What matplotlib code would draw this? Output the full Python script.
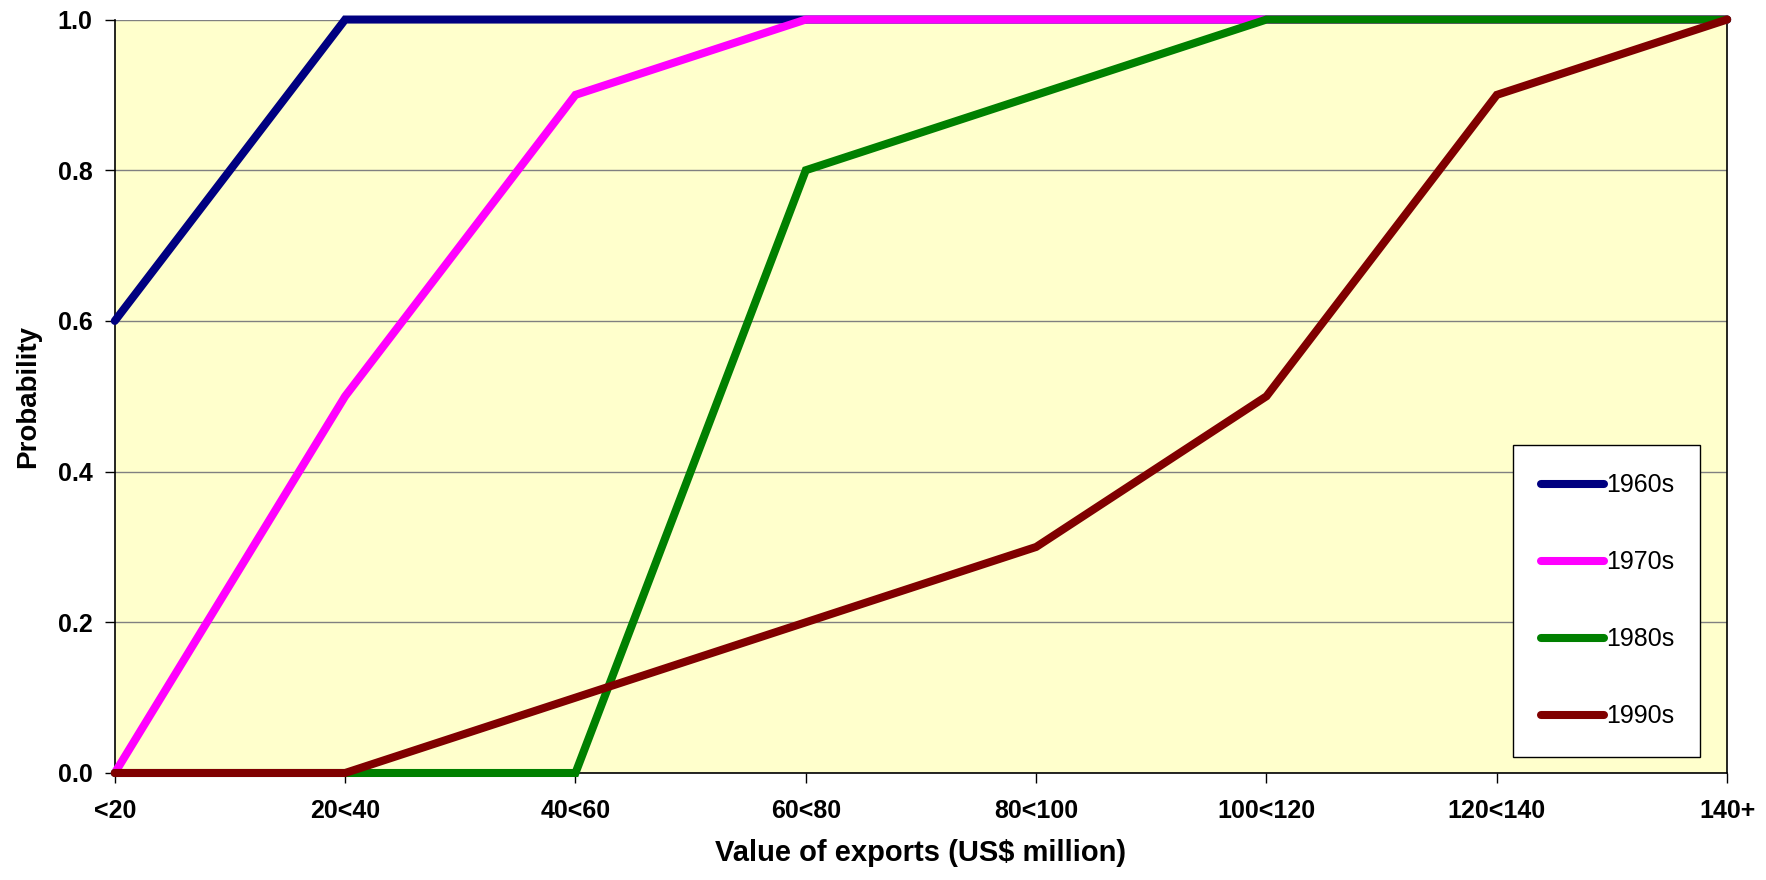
import matplotlib
matplotlib.use('Agg')
import matplotlib.pyplot as plt
import numpy as np

plt.rcParams['font.family'] = ['Liberation Sans', 'DejaVu Sans']

# 出口额分组与各年代累计概率
categories = ['<20', '20<40', '40<60', '60<80', '80<100', '100<120', '120<140', '140+']
p1960s = [0.6, 1.0, 1.0, 1.0, 1.0, 1.0, 1.0, 1.0]
p1970s = [0.0, 0.5, 0.9, 1.0, 1.0, 1.0, 1.0, 1.0]
p1980s = [0.0, 0.0, 0.0, 0.8, 0.9, 1.0, 1.0, 1.0]
p1990s = [0.0, 0.0, 0.1, 0.2, 0.3, 0.5, 0.9, 1.0]
labels = ['1960s', '1970s', '1980s', '1990s']
colors = ['#000080', '#FF00FF', '#008000', '#800000']

fig = plt.figure(figsize=(17.66, 8.80), dpi=100)
ax = fig.add_axes([0.065, 0.1216, 0.913, 0.8562])
ax.set_facecolor('#FFFFCC')

x = np.arange(len(categories))
for vals, lab, c in zip([p1960s, p1970s, p1980s, p1990s], labels, colors):
    ax.plot(x, vals, color=c, lw=5.8, label=lab, solid_capstyle='round',
            solid_joinstyle='miter', clip_on=False, zorder=3)

ax.set_xlim(0, len(categories) - 1)
ax.set_ylim(0, 1.0)
ax.set_xticks(x)
ax.set_xticklabels(categories)
ax.set_yticks(np.arange(0, 1.01, 0.2))
ax.set_yticklabels(['%.1f' % v for v in np.arange(0, 1.01, 0.2)])
ax.yaxis.grid(True, color='#808080', lw=1.0)
ax.set_axisbelow(True)

for lbl in ax.get_xticklabels() + ax.get_yticklabels():
    lbl.set_fontweight('bold')
ax.tick_params(axis='x', labelsize=18, length=7, width=1, pad=12, direction='out')
ax.tick_params(axis='y', labelsize=18, length=7, width=1, pad=9, direction='out')

for s in ['left', 'right', 'bottom']:
    ax.spines[s].set_color('black')
    ax.spines[s].set_linewidth(1.2)
ax.spines['top'].set_visible(False)

ax.set_xlabel('Value of exports (US$ million)', fontsize=21, fontweight='bold', labelpad=11)
ax.set_ylabel('Probability', fontsize=20, fontweight='bold', labelpad=12)

leg = ax.legend(loc='lower left', bbox_to_anchor=(0.867, 0.021, 0.116, 0.412),
                mode='expand', fontsize=18, labelspacing=2.12, handlelength=2.5,
                handletextpad=0.1, borderpad=1.15, fancybox=False, framealpha=1,
                edgecolor='black', borderaxespad=0)
leg.get_frame().set_linewidth(1.0)

fig.savefig('out.png', dpi=100, facecolor='white')
